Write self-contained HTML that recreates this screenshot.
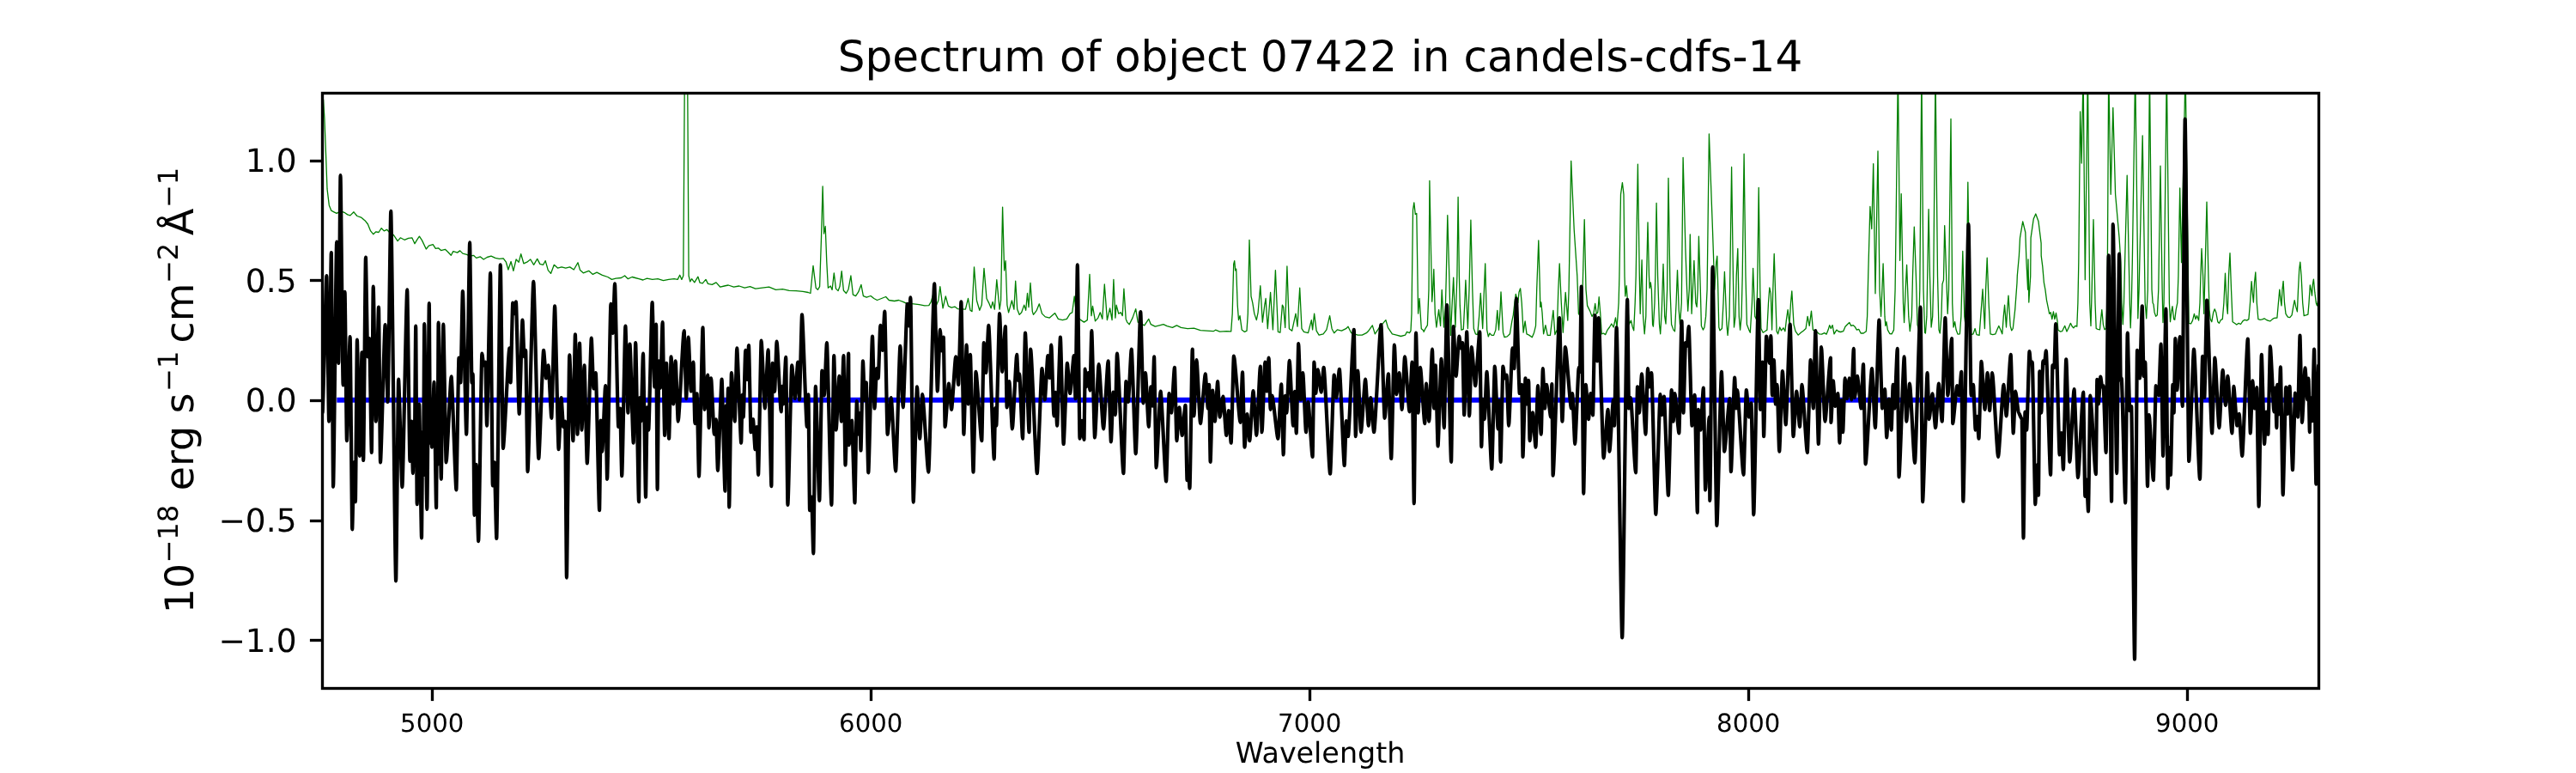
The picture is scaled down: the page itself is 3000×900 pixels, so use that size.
<!DOCTYPE html>
<html><head><meta charset="utf-8"><title>Spectrum of object 07422 in candels-cdfs-14</title>
<style>
html,body{margin:0;padding:0;background:#fff}
svg{display:block;will-change:transform}
text{text-rendering:geometricPrecision;font-family:"DejaVu Sans","Liberation Sans",sans-serif;fill:#000}
</style></head><body>
<svg width="3000" height="900" viewBox="0 0 3000 900">
<rect width="3000" height="900" fill="#fff"/>
<defs><clipPath id="c"><rect x="375" y="108" width="2325" height="693"/></clipPath></defs>
<g clip-path="url(#c)" fill="none" stroke-linejoin="round" stroke-linecap="butt">
<polyline stroke="#008000" stroke-width="1.3" points="376.6,115.8 377.9,137.9 379.5,178.9 381,219.9 383.3,238.9 385.8,245.2 388.9,246.8 392.1,248.4 396.8,245.8 401.6,247.7 404.7,249.9 407.9,250.9 412,246.8 415.8,251.5 420.5,253.1 425.2,256.9 428.4,261 431.6,268.9 434.7,272.7 437.9,269.8 441,270.5 444.2,265.7 447.3,268.9 450.5,267.3 453.6,270.5 458.4,273.6 463.1,280.6 466.3,276.8 471,279.3 475.7,277.4 479.8,276.8 483,283.7 486.2,278.3 488.4,275.2 491.5,279.9 496.3,290 499.4,286.2 504.2,284.7 507.3,289.4 510.5,288.8 513.6,291.6 518.4,290.3 521.5,293.2 525.3,297.3 527.8,292.6 532.6,294.1 535.7,291.9 538.9,295.1 543.6,296.3 547.4,298.2 551.5,297.3 554.7,300.4 559.4,298.9 563.2,302 567.3,299.5 572,298.2 576.8,300.4 581.5,301.4 586.2,300.8 589.4,305.2 591.9,314 595.1,304.5 597.9,315.3 601.1,302 604.2,305.2 606.7,295.7 609.9,306.8 613.7,305.2 617.8,302 621.6,308.3 625.7,301.4 628.8,307.4 632.6,308.3 635.2,303.6 638.3,314.6 641.5,318.4 645.3,308.3 649.4,312.1 654.1,310.9 658.8,312.1 663.6,310.9 668.3,314 673,305.8 675.6,314.6 679.3,317.8 685.7,315.3 690.4,319.4 695.1,317.2 701.4,320.3 707.8,322.5 712.5,325.4 717.2,324.1 723.5,323.5 727.6,321 731.4,324.7 736.2,322.5 739.9,323.5 744.1,324.7 748.8,326 753.5,324.1 759.8,325.4 766.1,324.7 772.5,326.6 778.8,325.4 785.1,324.7 789.2,325.4 791.7,320.3 793.9,325.4 795.8,321 797.4,74.7 800.6,74.7 802.1,321 803.7,327.9 805.6,324.7 808.8,328.9 812.9,322.2 815.1,329.2 818.2,329.8 822,325.4 824.5,330.4 829.3,331.4 834,328.9 838.8,334.2 843.5,333 848.2,332 854.5,334.2 860.8,333 867.2,335.2 873.5,333.6 879.8,336.1 887.7,335.2 895.6,334.2 903.5,337.4 911.4,336.7 919.2,338.3 927.1,338.6 935,339.3 941.3,340.5 943.9,341.5 947,309.3 950.2,335.2 952.4,337.4 954.6,333.6 956.5,276.8 958.1,216.8 959.6,272 961.2,263.5 962.8,305.2 964.4,335.2 967.2,333 969.1,337.4 971.3,317.8 973.5,336.1 976.1,338.6 978,333.6 980.2,315.6 982.4,338.3 985.5,341.5 988.1,336.7 990.9,321 993.4,343.1 996.6,344.6 999.7,339.9 1002.9,331.4 1005.4,344.6 1009.2,346.2 1014,344.5 1017.8,347.5 1021.5,349.5 1026.6,347.5 1031.6,345.5 1035.3,349.5 1041.6,350.5 1046.6,349.5 1051.7,351.3 1055.4,353.1 1064.2,353.8 1070.5,354.6 1076.8,355.8 1081.8,355.6 1084.3,351.3 1086.8,342.5 1090.6,355.1 1092.8,350 1094.8,333.7 1098.1,358.8 1101.3,345 1104.4,356.3 1108.1,358.1 1111.9,357.1 1115.2,359.6 1124.4,360.1 1127.5,347.5 1130,361.3 1132,362.6 1134.5,310.9 1137.5,350 1140.8,361.3 1143.3,355.1 1146,312.4 1149,347.5 1151.6,352.6 1154.1,358.8 1156.1,351.3 1158.3,360.1 1160.8,325.7 1164.1,360.1 1165.6,350 1167.6,241.1 1169.6,314.9 1171.1,303.6 1172.9,355.1 1174.6,363.8 1178.4,350 1180.9,360.1 1182.7,327.2 1184.7,360.1 1187.2,366.4 1189.7,363.8 1192.7,355.1 1194.7,361.3 1196.5,341.5 1198,357.6 1200,329.5 1202.3,362.6 1203.5,366.4 1207.3,361.3 1210.3,353.8 1213.5,365.1 1217.3,368.9 1222.3,370.1 1228.6,364.6 1232.4,371.4 1237.4,372.6 1242.4,371.4 1246.2,365.1 1248.7,363.8 1251.2,345 1253.7,367.6 1258.7,372.6 1262.5,375.1 1266.3,372.6 1269,319.4 1271,367.6 1272.5,356.3 1275.5,373.9 1278.8,370.1 1281.3,363.8 1283.8,371.4 1286.3,331 1289.4,372.6 1292.6,358.8 1295.1,372.6 1296.9,325.4 1298.9,370.1 1300.1,355.1 1302.7,365.1 1305.2,363.8 1307.2,367.6 1308.9,336.2 1311.2,371.4 1312.7,375.1 1315.2,377.7 1319,370.1 1322.7,359.6 1325.2,375.1 1332.8,378.9 1337.8,371.4 1340.3,377.7 1345.3,380.2 1350.3,378.9 1354.9,377.7 1359.1,379.7 1365.4,381.4 1370.4,378.9 1375.4,381.4 1383,382.7 1390.5,382.2 1398,384.7 1405.6,385.2 1413.1,385.7 1415.6,384.2 1420.6,386.2 1428.2,385.7 1433.7,385.9 1435.2,365.1 1436.7,307.4 1437.7,303.6 1438.7,314.9 1439.7,313.1 1441.2,355.1 1442.5,372.6 1444,367.6 1446.2,383.9 1449.5,386.4 1452,385.2 1453.3,365.1 1455,279.3 1457,345 1458.8,352.6 1460.8,365.1 1463.3,372.6 1465.1,363.8 1467.8,332.7 1470.3,375.1 1472.8,355.1 1474.1,347.5 1476.3,382.7 1479.6,340.5 1482.4,383.9 1485.4,314.6 1488.4,386.4 1490.9,387.2 1493.4,355.1 1494.7,357.6 1496.7,381.4 1498.9,309.9 1501.4,382.7 1504.7,385.2 1509,365.1 1511,380.2 1513.7,335.2 1516,382.7 1518.5,386.4 1523.5,387.7 1527.3,372.6 1528.6,383.9 1530.6,365.1 1533.1,385.2 1536.1,390.2 1541.1,388.9 1544.9,383.9 1548.6,367.6 1551.1,382.7 1553.7,387.7 1557.4,383.9 1562.4,385.2 1567.5,382.7 1570,380.2 1573.7,387.7 1581.3,390.2 1586.3,390.2 1591.3,387.7 1593.8,385.2 1598.3,378.9 1601.3,388.9 1606.4,381.4 1613.9,372.6 1616.4,381.4 1621.4,388.9 1626.4,390.2 1631.5,391.5 1636.5,390.2 1638.5,386.4 1641.5,387.7 1643,385.2 1644,365.1 1645.5,244.6 1646.8,235.8 1648.3,249.6 1649.8,248.4 1651.6,365.1 1653.1,347.5 1655.3,382.7 1658,384.9 1658.1,386.4 1660.4,381.8 1662.4,378.6 1664,337.1 1664.9,210.5 1667.7,351.2 1668.7,337.1 1669.8,313.5 1671.3,365.3 1672.9,381 1675.6,360.6 1677.6,379.4 1679.2,337.4 1681.5,381 1683.4,355.9 1684.3,321.4 1685.8,250.6 1687.8,321.4 1689.4,390.4 1691.2,352.7 1692.7,323.1 1694.9,381 1696.1,344.9 1696.9,321.4 1698.1,229.4 1699.4,321.4 1700.3,355.9 1701.9,384.1 1704.3,383.3 1705.8,352.7 1706.9,326.2 1709.4,382.5 1711,337.1 1712.9,256.2 1714.8,337.1 1716.3,382.5 1718.4,388.8 1720.7,389.6 1722.6,368.4 1724.3,341.4 1726.7,382.5 1728.1,344.9 1729.7,306.8 1731.7,384.1 1733.3,391.9 1734.9,388 1737.2,390.4 1739.6,390.4 1741.9,384.1 1743.8,361.4 1745.5,384.1 1747.1,360.6 1748,339.9 1750.5,387.2 1752.1,392.7 1755.2,391.9 1758.4,388.8 1760.7,374.7 1762.3,366.9 1763.9,352.7 1765.3,342.4 1767.8,352.7 1769,340.2 1770.6,335.8 1772.2,352.7 1774.1,387.2 1776.1,373.9 1778,388.8 1781.1,390.4 1784.3,392.7 1786.6,387.2 1788.5,379.4 1789.7,337.1 1791.8,279.9 1793.2,329.2 1793.8,357.4 1794.8,352 1796,363.7 1797.6,388.8 1799.9,378.6 1802.3,390.4 1805.4,390.4 1807.3,374.7 1808.9,361.4 1810.9,389.6 1813.3,384.1 1814.8,337.1 1816.2,306.8 1818.3,352.7 1820.3,387.2 1821.9,360.6 1823.2,340.5 1825.8,373.1 1827.1,337.1 1829.7,187.4 1833.2,267.3 1836.8,321.4 1838.4,365.3 1840.7,368.4 1843.1,337.1 1845.2,255.6 1847,337.1 1848.6,355.9 1851.7,362.1 1854,368.4 1855.9,365.3 1857.7,353.5 1859.2,365.3 1860.8,363.7 1862.2,345.7 1863.8,365.3 1865.3,388.8 1867.4,388 1869.7,389.6 1872.1,384.1 1874.4,381 1876.8,377 1879.1,381 1881.5,370 1883.1,381 1885.1,352.7 1885.9,321.4 1887.5,226.3 1889.4,212.7 1891,226.3 1892,321.4 1892.8,344.9 1894.2,332.7 1895.6,352.7 1897.2,377.8 1899.5,373.1 1901.1,380.2 1902.7,384.9 1904.2,352.7 1905.2,321.4 1907.4,191.2 1909.3,321.4 1910.2,365.3 1911,337.1 1912.1,302.7 1913.6,368.4 1915.2,388.8 1916.8,368.4 1917.6,321.4 1919,258.8 1920.5,321.4 1921.2,335.5 1922.3,328.9 1923.4,337.1 1924.6,377.8 1925.4,380.2 1927,352.7 1927.8,321.4 1929.1,236.4 1930.6,321.4 1932.5,377.8 1933.7,388.8 1935.3,360.6 1937,307.3 1938.7,368.4 1940,377 1941.6,337.1 1943,207.3 1945,337.1 1946.6,377.8 1948.9,384.1 1950.5,385.7 1952.1,352.7 1953.5,314.6 1955.2,360.6 1956.5,377.8 1958.3,352.7 1960.1,183.3 1962.9,289.4 1964.6,337.1 1965.7,362.1 1967.3,337.1 1968.3,273 1970.1,365.3 1971.4,337.1 1972.9,303.3 1974.8,352.7 1976.1,357.4 1977.2,337.1 1978.4,275.2 1980.3,337.1 1981.4,379.4 1983.4,384.1 1985,381 1986.6,368.4 1988.1,337.1 1990.4,155.9 1994.5,267.9 1996.8,337.1 1998.7,305.7 1999.8,298.2 2000.8,337.1 2001.8,381 2003,384.9 2005.4,382.5 2007,352.7 2008.4,316.3 2010.9,377.8 2012.1,390.4 2014,368.4 2014.8,321.4 2016.6,194.4 2018.4,321.4 2019.5,381 2021.1,368.4 2022.2,321.4 2023.8,289.4 2025.3,368.4 2026.6,384.1 2028.1,368.4 2029.2,321.4 2031.1,179.2 2033,321.4 2034.4,377.8 2036.8,384.1 2038.3,387.2 2040.4,352.7 2041.6,312.3 2043.8,368.4 2045.4,371.6 2046.6,337.1 2048.2,218.4 2049.8,337.1 2050.9,382.5 2053.2,387.2 2055.6,385.7 2057.9,384.1 2059.5,352.7 2060.8,334.8 2062.3,341.8 2063.6,384.1 2064.8,337.1 2066.2,295.5 2068,352.7 2069.1,385.7 2070.6,388.8 2072.7,381 2074.5,384.9 2076.9,381.8 2078.9,385.7 2080.5,371.6 2082.1,360.6 2084,377.8 2085.5,352.7 2086.8,338.9 2089,377.8 2091,385.7 2094.2,390.1 2097.3,387.2 2100.4,384.9 2103.1,382.5 2105.1,368.4 2107.2,379.4 2109.5,362.1 2111.4,384.1 2115.3,385.7 2118.5,388.8 2121.6,389.1 2124.7,387.6 2127.1,389.1 2129.1,384.1 2130.7,378.6 2132.3,382.5 2134.1,378.6 2136,388.8 2138.9,384.1 2141.2,386 2143.6,386.5 2146.7,385.7 2149,380.2 2151.4,377.8 2153.8,375.5 2155.8,379.4 2158,378.6 2160,380.2 2162.4,384.1 2164.7,383.3 2167.1,388 2170.2,388 2173.4,385.7 2174.6,368.4 2175.7,321.4 2177.9,240.5 2179.8,266.5 2181.7,190.6 2184,341.8 2187,175.8 2189,337.1 2190.6,368.4 2191.9,337.1 2193.1,306.8 2195,368.4 2195.8,379.4 2196.9,374.7 2198.4,384.1 2200.8,388.5 2203.2,388.8 2205.5,384.1 2207.1,337.1 2210.4,81.1 2212.6,303.3 2214.2,225.6 2216.5,352.7 2217.6,375.5 2219.2,337.1 2220.6,308.4 2222.8,368.4 2224.3,385.7 2226.4,368.4 2227.5,321.4 2229.3,264.1 2231.4,321.4 2233,377.8 2234.5,384.1 2235.8,337.1 2237.9,81.1 2240,337.1 2241.6,387.2 2242.4,388 2243.9,368.4 2244.7,321.4 2246.1,243.6 2247.5,321.4 2249.1,381 2250.7,368.4 2251.8,321.4 2254,81.1 2256.5,321.4 2258,384.1 2259.3,388 2260.9,368.4 2262,330.8 2263.5,326.1 2264.7,262.6 2266.7,321.4 2268.2,365.3 2269.5,337.1 2272,138.5 2273.7,352.7 2275,381 2276.6,374.7 2278.1,384.1 2280,389.1 2282.4,388.8 2283.9,368.4 2285.8,292.5 2287.8,368.4 2288.9,377.8 2290.2,337.1 2291.8,212.1 2293.8,337.1 2295.7,389.6 2298,388.8 2300.1,382.5 2302,389.6 2305.1,390.4 2306.7,368.4 2309,336.7 2311.4,382.5 2312.6,337.1 2314.2,300.2 2316.1,352.7 2318,388.8 2320.8,389.6 2323.9,388.8 2325.8,384.1 2327.8,379.4 2329.9,384.1 2331.8,388.8 2333.3,368.4 2334.6,355.1 2336.5,381 2337.7,360.6 2339,344.1 2341.2,379.4 2342.7,384.9 2344.3,382.5 2346.7,360.6 2349,329.2 2349.3,321 2351.4,297.8 2352.5,276.8 2355.7,257.8 2358.8,270.5 2360,305.7 2361.6,337.1 2362,302 2362.8,352 2364.7,321.4 2365.1,276.8 2368.3,254.7 2370.8,249 2374,257.8 2377.1,283.1 2377.2,297.8 2378.8,310.4 2380.4,329.2 2381.9,337.1 2383.5,349.6 2385.1,357.4 2386.7,365.3 2388.2,363.7 2389.8,371.6 2391.4,362.9 2392.9,371.6 2394.5,364.5 2396.1,374.7 2396.8,384.1 2399.2,386 2401.6,385.7 2403.1,382.5 2404.7,379.4 2407,386 2409.4,381 2411.4,376.3 2413.3,380.2 2414.9,381.8 2416.8,379.4 2418.8,380.2 2419.9,352.7 2420.8,305.7 2422.6,130 2424.2,190 2426.1,81.1 2428.3,325.7 2431.4,81.1 2433.7,352.7 2435,379.4 2436.2,337.1 2438,255.6 2440,352.7 2441.2,382.5 2443.1,383.3 2445.5,383.8 2446.6,371.6 2447.8,360.6 2449.4,377.8 2451,383.8 2452.5,382.5 2454.1,352.7 2455.7,81.1 2458.2,226.3 2460.8,125.3 2463.6,226.3 2468,276.1 2469.9,305.7 2471,352.7 2472.3,377.8 2473.5,352.7 2474.6,305.7 2477.2,204.2 2479.3,305.7 2480.3,352.7 2481.2,381.8 2482.3,352.7 2483.3,305.7 2486.7,81.1 2489.5,305.7 2489.8,370.8 2491.1,337.1 2495.2,157.8 2498.2,352.7 2499.7,370.8 2501.3,337.1 2503.4,81.1 2506,337.1 2507.1,352.7 2508,354.3 2509.1,363.7 2510.7,368.4 2512.3,366.9 2513.8,337.1 2516,193.1 2518.1,337.1 2519,375.5 2520.1,352.7 2523.3,81.1 2526.4,352.7 2527.5,374.7 2528.7,363.7 2530,356.7 2531.6,371.6 2532.7,372.3 2534.2,360.6 2535.8,352.7 2536.9,321.4 2538.7,219 2540.5,305.7 2545.1,81.1 2549.1,376.3 2551.5,377 2553.5,373.1 2555.4,365.3 2557,371.6 2558.5,367.6 2560.6,373.1 2562,352.7 2562.9,321.4 2564,289.4 2565.6,321.4 2566.7,365.3 2567.9,321.4 2570,235.1 2571.9,321.4 2573,360.6 2574.2,371.6 2575.8,374.7 2577.7,363.7 2579.2,359.8 2580.8,363.7 2582.8,374.7 2584.4,376.3 2586.5,372.3 2588.3,371.6 2589.9,352.7 2591.5,318.2 2593,352.7 2594.3,365.3 2595.5,321.4 2597,294.7 2598.5,337.1 2600.1,374.7 2602.4,376.3 2604.8,378.1 2607.2,376.3 2609.5,377.5 2611.9,373.9 2614.2,372.3 2616.6,373.1 2618.9,371.6 2620.5,352.7 2622.1,327.6 2623.3,341.8 2624.4,352 2625.5,329.2 2626.8,317 2628.3,352.7 2629.9,371.6 2632.2,372.3 2634.6,371.9 2637,370.8 2639.3,372.3 2641.7,373.4 2644,373.9 2646.4,371.6 2648.7,370.3 2651.9,370 2653.4,352.7 2654.8,337.1 2656.1,349.6 2657,355.9 2658,337.1 2659.1,327.3 2660.5,352.7 2662,365.3 2664.4,369.2 2666.8,369.7 2669.1,366.9 2670.7,357.4 2672.2,349.6 2673.8,357.4 2675.4,362.9 2676.5,337.1 2677.7,313.5 2678.8,305.2 2680.1,321.4 2681.7,352.7 2683.2,367.6 2685.6,366.9 2687.9,366.1 2689,352.7 2690.3,332 2691.4,337.1 2692.5,344.1 2693.4,330.8 2694.4,325.1 2695.8,340.2 2697.3,352.7 2698.4,355.9 2699.7,349.6 2701.3,337.1"/>
<line x1="392.3" y1="465.8" x2="2677" y2="465.8" stroke="#0000ff" stroke-width="6"/>
<path stroke="#000" stroke-width="4.2" d="M375.5,480.6C376.4,480.6 379.5,321 380.4,321C380.9,321 382.6,490.6 383.1,490.6C383.6,490.6 385.3,294.1 385.8,294.1C386.2,294.1 387.7,566.6 388.1,566.6C388.8,566.6 391.4,281.5 392.1,281.5C392.5,281.5 393.9,422.8 394.3,422.8C394.7,422.8 396.1,204.2 396.5,204.2C397.1,204.2 399.0,448.4 399.6,448.4C400.0,448.4 401.2,339.9 401.6,339.9C402.0,339.9 403.5,513.2 403.9,513.2C404.6,513.2 407.0,392.2 407.7,392.2C408.1,392.2 409.8,616.3 410.2,616.3C410.6,616.3 411.8,538.3 412.2,538.3C412.5,538.3 413.6,584.2 413.9,584.2C414.3,584.2 415.5,395.7 415.9,395.7C416.4,395.7 418.4,530.8 418.9,530.8C419.4,530.8 421.0,410.3 421.5,410.3C421.8,410.3 422.9,536 423.2,536C423.7,536 425.4,299.5 425.9,299.5C426.3,299.5 427.8,415.3 428.2,415.3C428.6,415.3 429.8,394 430.2,394C430.7,394 432.3,527 432.8,527C433.1,527 434.4,333.6 434.7,333.6C435.3,333.6 437.2,490.6 437.8,490.6C438.4,490.6 440.4,357.6 441,357.6C441.4,357.6 442.6,538.5 443,538.5C444.0,538.5 447.6,378.2 448.6,378.2C449.1,378.2 451.1,468 451.6,468C452.2,468 454.6,245.8 455.2,245.8C456.3,245.8 460.0,676.3 461.1,676.3C461.6,676.3 463.6,441.7 464.1,441.7C464.9,441.7 467.6,567.1 468.4,567.1C469.4,567.1 473.2,337.4 474.2,337.4C474.8,337.4 476.8,537 477.4,537C477.7,537 478.9,490.6 479.2,490.6C479.5,490.6 480.6,551.1 480.9,551.1C481.1,551.1 481.7,490.6 481.9,490.6C482.0,490.6 482.6,530.8 482.7,530.8C483.0,530.8 483.9,379.7 484.2,379.7C484.5,379.7 485.4,587.2 485.7,587.2C486.1,587.2 487.8,470.5 488.2,470.5C488.7,470.5 490.5,626.4 491,626.4C491.2,626.4 492.0,503.2 492.2,503.2C492.3,503.2 492.9,553.4 493,553.4C493.2,553.4 494.0,377.1 494.2,377.1C494.8,377.1 496.7,593 497.3,593C497.8,593 499.4,353.1 499.8,353.1C500.0,353.1 500.8,515.7 501,515.7C501.2,515.7 501.8,480.6 502,480.6C502.2,480.6 502.8,520.7 503,520.7C503.4,520.7 505.1,444.9 505.5,444.9C506.0,444.9 507.6,591.2 508.1,591.2C508.2,591.2 508.7,500.6 508.8,500.6C508.9,500.6 509.5,540.8 509.6,540.8C509.8,540.8 510.4,375.6 510.6,375.6C511.2,375.6 513.2,557.8 513.8,557.8C514.2,557.8 515.8,377.7 516.3,377.7C516.9,377.7 519.0,538.5 519.6,538.5C520.7,538.5 524.5,438.4 525.6,438.4C526.6,438.4 530.4,570.4 531.4,570.4C531.9,570.4 533.9,416.6 534.4,416.6C534.8,416.6 536.0,445.4 536.4,445.4C536.9,445.4 538.4,339 538.9,339C539.7,339 542.4,505.7 543.2,505.7C543.9,505.7 546.4,282.4 547.1,282.4C547.5,282.4 549.1,445.4 549.5,445.4C549.7,445.4 550.5,435.4 550.7,435.4C551.0,435.4 552.2,599.8 552.5,599.8C552.9,599.8 554.1,540.8 554.5,540.8C555.0,540.8 556.7,630.1 557.2,630.1C557.9,630.1 560.6,411.5 561.3,411.5C561.7,411.5 562.9,425.3 563.3,425.3C563.7,425.3 564.9,421.6 565.3,421.6C565.6,421.6 566.7,495.6 567,495.6C567.7,495.6 570.4,317.8 571.1,317.8C571.6,317.8 573.3,565.4 573.8,565.4C574.2,565.4 575.4,538.3 575.8,538.3C576.2,538.3 577.8,626.9 578.3,626.9C579.1,626.9 582.0,308.3 582.8,308.3C583.4,308.3 585.3,522 585.9,522C587.2,522 592.0,405.3 593.4,405.3C593.6,405.3 594.4,445.4 594.6,445.4C595.1,445.4 596.7,352.6 597.2,352.6C597.5,352.6 598.6,365.1 598.9,365.1C599.3,365.1 600.5,351.3 600.9,351.3C601.6,351.3 604.0,481.8 604.7,481.8C605.4,481.8 607.8,372.6 608.5,372.6C608.9,372.6 610.1,415.3 610.5,415.3C610.8,415.3 611.9,407.8 612.2,407.8C612.6,407.8 614.1,549.1 614.5,549.1C615.7,549.1 620.1,327.9 621.3,327.9C622.4,327.9 626.2,534 627.3,534C628.3,534 632.1,407.8 633.1,407.8C633.6,407.8 635.6,440.4 636.1,440.4C636.6,440.4 638.1,425.3 638.6,425.3C639.3,425.3 641.6,486.8 642.3,486.8C643.0,486.8 645.4,356.3 646.1,356.3C646.9,356.3 649.8,523.2 650.6,523.2C651.1,523.2 653.1,463 653.6,463C654.1,463 655.6,496.9 656.1,496.9C656.5,496.9 657.8,490.6 658.2,490.6C658.5,490.6 659.6,672.6 659.9,672.6C660.5,672.6 662.6,413.3 663.2,413.3C664.0,413.3 666.6,513.2 667.4,513.2C667.9,513.2 669.4,389.4 669.9,389.4C670.4,389.4 672.0,505.7 672.5,505.7C673.0,505.7 674.5,399.5 675,399.5C675.5,399.5 677.0,500.6 677.5,500.6C678.0,500.6 680.0,425.3 680.5,425.3C681.1,425.3 683.2,539.5 683.8,539.5C684.7,539.5 687.9,393.5 688.8,393.5C689.2,393.5 690.8,452.5 691.3,452.5C691.8,452.5 693.3,434.1 693.8,434.1C694.6,434.1 697.3,594.2 698.1,594.2C698.4,594.2 699.4,489.6 699.7,489.6C700.0,489.6 701.0,525.7 701.3,525.7C702.0,525.7 704.4,449.2 705.1,449.2C705.5,449.2 706.7,557.8 707.1,557.8C707.9,557.8 710.6,353.8 711.4,353.8C711.8,353.8 713.3,387.9 713.7,387.9C714.1,387.9 715.6,330.4 716,330.4C716.8,330.4 719.4,496.9 720.2,496.9C720.6,496.9 721.8,475.5 722.2,475.5C722.6,475.5 723.8,554.1 724.2,554.1C725.0,554.1 727.6,379.7 728.4,379.7C728.9,379.7 730.9,480.6 731.4,480.6C731.8,480.6 733.1,400.7 733.5,400.7C734.3,400.7 736.9,515.7 737.7,515.7C738.2,515.7 739.8,399 740.2,399C740.9,399 743.3,584.2 744,584.2C744.2,584.2 745.1,463.2 745.3,463.2C745.5,463.2 746.3,490.6 746.5,490.6C747.0,490.6 748.5,411.5 749,411.5C749.5,411.5 751.5,578.7 752,578.7C752.3,578.7 753.4,474.4 753.7,474.4C754.0,474.4 755.0,500.6 755.3,500.6C756.1,500.6 758.8,352 759.6,352C760.1,352 761.8,450.4 762.3,450.4C762.6,450.4 763.8,377.7 764.1,377.7C764.4,377.7 765.3,569.9 765.6,569.9C765.9,569.9 767.0,420.4 767.3,420.4C767.6,420.4 768.8,451.7 769.1,451.7C769.6,451.7 771.1,375.1 771.6,375.1C772.1,375.1 773.6,506.9 774.1,506.9C774.5,506.9 775.7,422.8 776.1,422.8C776.6,422.8 778.6,510.7 779.1,510.7C779.6,510.7 781.1,415.3 781.6,415.3C782.1,415.3 783.7,470.5 784.2,470.5C784.7,470.5 786.2,420.3 786.7,420.3C787.2,420.3 789.2,490.6 789.7,490.6C791.0,490.6 795.4,385.2 796.7,385.2C797.2,385.2 798.8,464.2 799.2,464.2C799.7,464.2 801.2,392.7 801.7,392.7C802.2,392.7 804.2,455.5 804.7,455.5C805.2,455.5 807.0,421.6 807.5,421.6C807.8,421.6 809.0,493.1 809.3,493.1C809.7,493.1 811.2,458.4 811.6,458.4C812.0,458.4 813.6,554.6 814,554.6C814.8,554.6 817.7,381.4 818.5,381.4C818.9,381.4 820.2,476.8 820.6,476.8C821.3,476.8 823.6,436.6 824.3,436.6C824.5,436.6 825.4,498.1 825.6,498.1C826.1,498.1 827.6,440.4 828.1,440.4C828.8,440.4 831.1,505.7 831.8,505.7C832.2,505.7 833.5,488.3 833.9,488.3C834.3,488.3 835.5,547.8 835.9,547.8C836.7,547.8 839.8,441.7 840.6,441.7C841.3,441.7 843.7,571.7 844.4,571.7C844.6,571.7 845.5,472.4 845.7,472.4C845.9,472.4 846.7,488.1 846.9,488.1C847.1,488.1 847.8,452.2 848,452.2C848.2,452.2 849.0,590.5 849.2,590.5C849.7,590.5 851.4,434.1 851.9,434.1C852.6,434.1 855.0,490.6 855.7,490.6C856.2,490.6 857.8,405.3 858.2,405.3C859.1,405.3 862.3,515.7 863.2,515.7C863.4,515.7 864.3,459.8 864.5,459.8C864.7,459.8 865.5,485.6 865.7,485.6C866.2,485.6 867.8,407.8 868.2,407.8C868.5,407.8 869.8,441.8 870.1,441.8C870.4,441.8 871.7,402.2 872,402.2C872.5,402.2 874.0,503.2 874.5,503.2C875.0,503.2 876.5,488.1 877,488.1C877.5,488.1 879.0,523.2 879.5,523.2C879.8,523.2 881.0,497.1 881.3,497.1C881.6,497.1 882.8,552.8 883.1,552.8C883.7,552.8 886.0,396.5 886.6,396.5C887.4,396.5 890.0,475.5 890.8,475.5C891.5,475.5 893.9,407.3 894.6,407.3C895.3,407.3 897.7,566.1 898.4,566.1C898.6,566.1 899.4,422.8 899.6,422.8C900.1,422.8 901.6,455.9 902.1,455.9C902.6,455.9 904.1,397.7 904.6,397.7C905.5,397.7 908.8,479.3 909.7,479.3C909.9,479.3 910.7,449.8 910.9,449.8C911.1,449.8 912.0,470.5 912.2,470.5C912.7,470.5 914.7,415.8 915.2,415.8C915.6,415.8 917.0,588 917.4,588C918.3,588 921.3,425.3 922.2,425.3C922.8,425.3 925.1,464 925.7,464C926.3,464 928.6,421.6 929.2,421.6C929.5,421.6 930.7,465.5 931,465.5C931.5,465.5 933.5,366.4 934,366.4C935.0,366.4 938.8,496.9 939.8,496.9C940.1,496.9 941.1,459.3 941.4,459.3C941.7,459.3 942.7,594.2 943,594.2C943.4,594.2 944.8,578.5 945.2,578.5C945.6,578.5 946.9,644.4 947.3,644.4C947.8,644.4 949.3,449.9 949.8,449.9C950.6,449.9 953.5,582.9 954.3,582.9C954.8,582.9 956.8,431.6 957.3,431.6C957.8,431.6 959.4,460.5 959.9,460.5C960.4,460.5 962.4,399 962.9,399C963.9,399 967.4,588 968.4,588C968.9,588 970.7,414 971.2,414C971.7,414 973.2,500.6 973.7,500.6C974.4,500.6 976.7,437.9 977.4,437.9C977.9,437.9 979.4,490.6 979.9,490.6C980.4,490.6 981.9,414 982.4,414C982.8,414 984.1,541.5 984.5,541.5C985.2,541.5 987.5,411.5 988.2,411.5C988.3,411.5 988.6,518.2 988.7,518.2C989.3,518.2 991.5,489.7 992.1,489.7C992.7,489.7 994.9,585.5 995.5,585.5C995.9,585.5 997.4,467.2 997.8,467.2C998.2,467.2 999.6,505.7 1000,505.7C1000.2,505.7 1001.1,481.1 1001.3,481.1C1001.5,481.1 1002.3,524.5 1002.5,524.5C1003.0,524.5 1004.5,420.3 1005,420.3C1005.3,420.3 1006.6,465.8 1006.9,465.8C1007.2,465.8 1008.5,445.4 1008.8,445.4C1009.2,445.4 1010.8,550.3 1011.3,550.3C1012.1,550.3 1015.2,391.5 1016,391.5C1016.5,391.5 1018.0,475.5 1018.5,475.5C1019.0,475.5 1020.5,429.1 1021,429.1C1021.3,429.1 1022.5,440.4 1022.8,440.4C1023.2,440.4 1024.8,378.9 1025.3,378.9C1025.8,378.9 1027.3,407.8 1027.8,407.8C1028.2,407.8 1029.8,362.6 1030.3,362.6C1030.9,362.6 1033.0,505.7 1033.6,505.7C1034.4,505.7 1037.0,463 1037.8,463C1038.8,463 1042.1,548.6 1043.1,548.6C1044.1,548.6 1047.4,402.8 1048.4,402.8C1049.0,402.8 1051.1,474.3 1051.7,474.3C1052.6,474.3 1055.8,353.8 1056.7,353.8C1057.0,353.8 1058.3,379.4 1058.6,379.4C1058.9,379.4 1060.1,346.3 1060.4,346.3C1061.0,346.3 1063.1,584.7 1063.7,584.7C1064.5,584.7 1067.2,450.4 1068,450.4C1068.6,450.4 1070.6,510.7 1071.2,510.7C1071.7,510.7 1073.7,459.2 1074.2,459.2C1075.5,459.2 1080.0,549.6 1081.3,549.6C1082.5,549.6 1087.0,330.4 1088.2,330.4C1088.8,330.4 1091.2,455.5 1091.8,455.5C1092.3,455.5 1094.3,383.9 1094.8,383.9C1095.2,383.9 1096.4,408.4 1096.8,408.4C1097.2,408.4 1098.4,392.7 1098.8,392.7C1099.1,392.7 1100.3,496.9 1100.6,496.9C1101.4,496.9 1104.1,446.7 1104.9,446.7C1105.5,446.7 1107.5,476.8 1108.1,476.8C1109.0,476.8 1112.2,415.3 1113.1,415.3C1113.7,415.3 1115.6,447.9 1116.2,447.9C1116.8,447.9 1118.8,351.3 1119.4,351.3C1119.9,351.3 1121.9,505.7 1122.4,505.7C1123.0,505.7 1125.1,401.5 1125.7,401.5C1126.0,401.5 1127.2,470.5 1127.5,470.5C1128.0,470.5 1129.5,412.8 1130,412.8C1130.6,412.8 1132.9,549.6 1133.5,549.6C1134.0,549.6 1136.0,432.9 1136.5,432.9C1137.7,432.9 1142.1,513.2 1143.3,513.2C1143.8,513.2 1145.3,399 1145.8,399C1146.2,399 1147.8,434.1 1148.3,434.1C1148.8,434.1 1150.8,378.9 1151.3,378.9C1152.5,378.9 1156.6,534.5 1157.8,534.5C1158.0,534.5 1158.9,475.1 1159.1,475.1C1159.3,475.1 1160.1,495.6 1160.3,495.6C1161.0,495.6 1163.4,365.1 1164.1,365.1C1164.6,365.1 1166.6,432.9 1167.1,432.9C1167.8,432.9 1170.2,380.2 1170.9,380.2C1171.2,380.2 1172.3,474.3 1172.6,474.3C1173.1,474.3 1174.9,444.2 1175.4,444.2C1176.0,444.2 1178.3,499.4 1178.9,499.4C1179.9,499.4 1183.2,412.8 1184.2,412.8C1184.5,412.8 1185.6,442.9 1185.9,442.9C1186.1,442.9 1187.0,435.4 1187.2,435.4C1187.9,435.4 1190.3,510.7 1191,510.7C1191.5,510.7 1193.5,387.7 1194,387.7C1194.8,387.7 1197.7,503.2 1198.5,503.2C1198.8,503.2 1199.9,406.5 1200.2,406.5C1201.6,406.5 1206.4,551.1 1207.8,551.1C1208.8,551.1 1212.5,429.1 1213.5,429.1C1214.1,429.1 1216.2,465.5 1216.8,465.5C1217.4,465.5 1219.7,414 1220.3,414C1220.7,414 1221.9,440 1222.3,440C1222.7,440 1223.9,401.5 1224.3,401.5C1224.9,401.5 1226.8,484.3 1227.4,484.3C1227.7,484.3 1228.9,456.9 1229.2,456.9C1229.5,456.9 1230.8,495.6 1231.1,495.6C1231.8,495.6 1234.2,392.7 1234.9,392.7C1235.6,392.7 1237.9,517 1238.6,517C1239.4,517 1242.1,422.8 1242.9,422.8C1243.5,422.8 1245.6,458 1246.2,458C1247.0,458 1249.9,414 1250.7,414C1251.0,414 1252.2,464.2 1252.5,464.2C1252.9,464.2 1254.4,308.3 1254.8,308.3C1255.3,308.3 1257.0,510.7 1257.5,510.7C1258.0,510.7 1259.5,489.9 1260,489.9C1260.5,489.9 1262.0,511.9 1262.5,511.9C1262.7,511.9 1263.5,429.7 1263.7,429.7C1263.9,429.7 1264.8,450.4 1265,450.4C1265.5,450.4 1267.0,434.1 1267.5,434.1C1267.8,434.1 1269.1,454.6 1269.4,454.6C1269.7,454.6 1271.0,385.2 1271.3,385.2C1272.0,385.2 1274.3,509.4 1275,509.4C1275.8,509.4 1278.8,424.1 1279.6,424.1C1280.6,424.1 1284.1,499.4 1285.1,499.4C1286.1,499.4 1289.6,420.3 1290.6,420.3C1291.2,420.3 1293.3,514.4 1293.9,514.4C1294.4,514.4 1296.0,456.6 1296.4,456.6C1296.9,456.6 1298.5,483.1 1298.9,483.1C1299.3,483.1 1300.5,411.5 1300.9,411.5C1302.2,411.5 1307.1,551.1 1308.4,551.1C1308.9,551.1 1310.9,444.2 1311.4,444.2C1311.9,444.2 1313.5,468 1313.9,468C1314.6,468 1317.0,406.5 1317.7,406.5C1318.6,406.5 1321.8,528.3 1322.7,528.3C1323.7,528.3 1327.3,363.1 1328.3,363.1C1328.9,363.1 1330.9,469.3 1331.5,469.3C1332.0,469.3 1333.5,434.1 1334,434.1C1334.7,434.1 1337.1,496.9 1337.8,496.9C1338.2,496.9 1339.8,450.4 1340.3,450.4C1340.6,450.4 1341.9,472.7 1342.2,472.7C1342.5,472.7 1343.8,415.3 1344.1,415.3C1344.5,415.3 1346.1,544.5 1346.6,544.5C1347.5,544.5 1350.7,455.5 1351.6,455.5C1352.8,455.5 1356.9,560.4 1358.1,560.4C1358.7,560.4 1361.0,458 1361.6,458C1362.1,458 1363.7,480.6 1364.2,480.6C1364.9,480.6 1367.2,427.9 1367.9,427.9C1368.4,427.9 1370.0,513.2 1370.4,513.2C1370.9,513.2 1372.9,474.3 1373.4,474.3C1374.0,474.3 1376.1,506.9 1376.7,506.9C1377.4,506.9 1379.8,471.8 1380.5,471.8C1380.9,471.8 1382.1,559.1 1382.5,559.1C1382.8,559.1 1383.7,543.6 1384,543.6C1384.3,543.6 1385.2,568.6 1385.5,568.6C1386.1,568.6 1388.1,406.5 1388.7,406.5C1389.0,406.5 1390.2,484.3 1390.5,484.3C1391.0,484.3 1393.0,419.1 1393.5,419.1C1394.3,419.1 1397.2,493.1 1398,493.1C1399.0,493.1 1402.8,435.4 1403.8,435.4C1404.3,435.4 1406.3,475.5 1406.8,475.5C1407.0,475.5 1407.9,447.9 1408.1,447.9C1408.4,447.9 1409.3,537.8 1409.6,537.8C1410.1,537.8 1411.7,454.7 1412.2,454.7C1412.7,454.7 1414.4,490.6 1414.9,490.6C1415.5,490.6 1417.5,444.2 1418.1,444.2C1418.5,444.2 1420.1,485.6 1420.6,485.6C1421.3,485.6 1423.7,461.7 1424.4,461.7C1425.1,461.7 1427.5,506.9 1428.2,506.9C1428.7,506.9 1430.4,478 1430.9,478C1431.4,478 1433.2,515.7 1433.7,515.7C1434.3,515.7 1436.3,414.5 1436.9,414.5C1438.3,414.5 1443.1,491.9 1444.5,491.9C1445.0,491.9 1446.5,433.4 1447,433.4C1447.5,433.4 1449.0,520.7 1449.5,520.7C1450.0,520.7 1451.9,482.1 1452.4,482.1C1452.9,482.1 1454.8,513.2 1455.3,513.2C1456.1,513.2 1458.7,455 1459.5,455C1460.2,455 1462.6,506.9 1463.3,506.9C1464.1,506.9 1467.0,426.6 1467.8,426.6C1468.1,426.6 1469.3,503.2 1469.6,503.2C1470.3,503.2 1472.6,421.6 1473.3,421.6C1473.7,421.6 1474.9,455.5 1475.3,455.5C1475.7,455.5 1477.2,416.6 1477.6,416.6C1478.0,416.6 1479.2,476.8 1479.6,476.8C1479.9,476.8 1481.1,460.5 1481.4,460.5C1482.7,460.5 1487.1,510.7 1488.4,510.7C1489.1,510.7 1491.5,447.4 1492.2,447.4C1492.7,447.4 1494.2,529.5 1494.7,529.5C1495.0,529.5 1496.3,460.9 1496.6,460.9C1496.9,460.9 1498.1,480.6 1498.4,480.6C1499.0,480.6 1501.1,419.8 1501.7,419.8C1502.5,419.8 1505.2,495.6 1506,495.6C1506.3,495.6 1507.6,455.8 1507.9,455.8C1508.2,455.8 1509.4,504.4 1509.7,504.4C1510.2,504.4 1511.8,400.2 1512.2,400.2C1512.7,400.2 1514.3,465.5 1514.8,465.5C1515.2,465.5 1516.8,434.1 1517.3,434.1C1518.0,434.1 1520.3,503.2 1521,503.2C1521.5,503.2 1523.0,468 1523.5,468C1524.4,468 1527.7,532 1528.6,532C1528.9,532 1530.1,421.5 1530.4,421.5C1530.7,421.5 1532.0,458 1532.3,458C1532.8,458 1534.3,430.4 1534.8,430.4C1535.5,430.4 1537.9,456.7 1538.6,456.7C1539.1,456.7 1541.1,427.9 1541.6,427.9C1542.9,427.9 1547.8,551.6 1549.1,551.6C1549.9,551.6 1552.9,436.6 1553.7,436.6C1554.2,436.6 1555.8,463 1556.2,463C1556.9,463 1559.2,429.9 1559.9,429.9C1560.9,429.9 1564.7,542 1565.7,542C1566.1,542 1567.4,490.2 1567.8,490.2C1568.2,490.2 1569.6,508.2 1570,508.2C1571.2,508.2 1575.6,383.9 1576.8,383.9C1577.2,383.9 1578.4,508.2 1578.8,508.2C1579.2,508.2 1580.8,431.6 1581.3,431.6C1582.0,431.6 1584.3,503.2 1585,503.2C1585.9,503.2 1589.2,441.7 1590.1,441.7C1590.8,441.7 1593.1,495.6 1593.8,495.6C1594.2,495.6 1595.8,463 1596.3,463C1597.0,463 1599.4,503.2 1600.1,503.2C1601.6,503.2 1606.9,378.2 1608.4,378.2C1609.2,378.2 1611.8,486.8 1612.6,486.8C1613.4,486.8 1616.1,435.4 1616.9,435.4C1617.5,435.4 1619.6,534 1620.2,534C1620.9,534 1623.2,401.5 1623.9,401.5C1624.4,401.5 1626.0,459.2 1626.4,459.2C1627.0,459.2 1628.9,434.1 1629.5,434.1C1630.1,434.1 1632.1,476.8 1632.7,476.8C1633.3,476.8 1635.4,415.3 1636,415.3C1637.0,415.3 1640.5,479.3 1641.5,479.3C1642.0,479.3 1644.0,421.6 1644.5,421.6C1644.9,421.6 1646.4,586.2 1646.8,586.2C1647.2,586.2 1648.6,387.7 1649,387.7C1649.5,387.7 1651.1,480.6 1651.6,480.6C1652.0,480.6 1653.6,427.9 1654.1,427.9C1655.0,427.9 1658.4,493.1 1659.3,493.1C1659.6,493.1 1660.7,446.7 1661,446.7C1661.6,446.7 1663.7,490.6 1664.3,490.6C1665.0,490.6 1667.3,406.5 1668,406.5C1668.4,406.5 1669.6,475.5 1670,475.5C1670.3,475.5 1671.5,425.3 1671.8,425.3C1672.3,425.3 1674.1,519.5 1674.6,519.5C1675.3,519.5 1677.9,417.8 1678.6,417.8C1679.2,417.8 1681.2,498.1 1681.8,498.1C1682.4,498.1 1684.5,355.1 1685.1,355.1C1686.0,355.1 1689.2,537.8 1690.1,537.8C1690.5,537.8 1692.1,380.2 1692.6,380.2C1693.2,380.2 1695.1,437.9 1695.7,437.9C1696.4,437.9 1698.7,391.5 1699.4,391.5C1699.7,391.5 1700.9,405.3 1701.2,405.3C1701.6,405.3 1702.8,399 1703.2,399C1703.6,399 1704.8,483.1 1705.2,483.1C1705.7,483.1 1707.7,386.4 1708.2,386.4C1708.7,386.4 1710.7,484.3 1711.2,484.3C1711.7,484.3 1713.2,404 1713.7,404C1714.5,404 1717.4,449.2 1718.2,449.2C1719.1,449.2 1722.4,386.4 1723.3,386.4C1723.7,386.4 1724.9,520.2 1725.3,520.2C1725.6,520.2 1726.7,464.8 1727,464.8C1727.3,464.8 1728.5,488.1 1728.8,488.1C1729.3,488.1 1731.0,432.9 1731.5,432.9C1732.5,432.9 1736.3,546 1737.3,546C1737.9,546 1740.2,426.6 1740.8,426.6C1741.5,426.6 1743.9,499.4 1744.6,499.4C1744.9,499.4 1745.8,466.4 1746.1,466.4C1746.4,466.4 1747.3,537.8 1747.6,537.8C1748.1,537.8 1749.9,426.6 1750.4,426.6C1750.8,426.6 1752.2,440.4 1752.6,440.4C1753.0,440.4 1754.2,436.6 1754.6,436.6C1755.0,436.6 1756.6,495.6 1757.1,495.6C1757.9,495.6 1760.6,405.3 1761.4,405.3C1761.8,405.3 1763.0,429.1 1763.4,429.1C1763.9,429.1 1765.5,347.5 1765.9,347.5C1766.6,347.5 1769.0,458 1769.7,458C1770.2,458 1771.8,447.9 1772.2,447.9C1772.4,447.9 1773.3,532 1773.5,532C1774.0,532 1776.0,440.4 1776.5,440.4C1776.9,440.4 1778.1,470.5 1778.5,470.5C1778.8,470.5 1779.9,442.9 1780.2,442.9C1780.4,442.9 1781.3,513.2 1781.5,513.2C1782.1,513.2 1784.4,480.4 1785,480.4C1785.6,480.4 1787.9,520.7 1788.5,520.7C1789.0,520.7 1790.5,449.2 1791,449.2C1791.7,449.2 1794.1,505.7 1794.8,505.7C1795.2,505.7 1796.4,429.1 1796.8,429.1C1797.2,429.1 1798.7,475.5 1799.1,475.5C1799.5,475.5 1800.7,447.9 1801.1,447.9C1802.0,447.9 1805.2,485.6 1806.1,485.6C1806.3,485.6 1807.1,447.2 1807.3,447.2C1807.5,447.2 1808.4,553.6 1808.6,553.6C1809.9,553.6 1814.8,370.1 1816.1,370.1C1816.7,370.1 1818.8,490.6 1819.4,490.6C1820.0,490.6 1822.3,404 1822.9,404C1824.2,404 1828.6,475.5 1829.9,475.5C1830.1,475.5 1831.0,458 1831.2,458C1831.7,458 1833.7,517 1834.2,517C1835.0,517 1837.9,427.9 1838.7,427.9C1838.9,427.9 1839.8,432.9 1840,432.9C1840.3,432.9 1841.4,333.6 1841.7,333.6C1842.2,333.6 1843.8,574.7 1844.2,574.7C1844.7,574.7 1846.3,447.9 1846.8,447.9C1847.4,447.9 1849.4,488.1 1850,488.1C1850.5,488.1 1852.0,458 1852.5,458C1853.0,458 1854.5,483.5 1855,483.5C1855.5,483.5 1857.0,367.1 1857.5,367.1C1858.0,367.1 1859.6,420.3 1860.1,420.3C1860.4,420.3 1861.5,370.1 1861.8,370.1C1862.8,370.1 1866.6,533.3 1867.6,533.3C1868.5,533.3 1871.7,476.8 1872.6,476.8C1872.9,476.8 1874.1,525.7 1874.4,525.7C1875.2,525.7 1878.1,465.5 1878.9,465.5C1879.1,465.5 1879.9,495.6 1880.1,495.6C1880.5,495.6 1882.1,381.4 1882.6,381.4C1883.8,381.4 1888.0,742.3 1889.2,742.3C1890.3,742.3 1894.1,348.8 1895.2,348.8C1895.5,348.8 1896.7,475.5 1897,475.5C1897.4,475.5 1898.6,463 1899,463C1900.1,463 1903.9,550.3 1905,550.3C1905.4,550.3 1906.6,450.4 1907,450.4C1907.4,450.4 1908.6,480.6 1909,480.6C1909.5,480.6 1911.5,435.4 1912,435.4C1912.8,435.4 1915.7,505.7 1916.5,505.7C1917.0,505.7 1918.5,429.1 1919,429.1C1919.4,429.1 1920.7,450.4 1921.1,450.4C1921.5,450.4 1922.9,434.1 1923.3,434.1C1924.2,434.1 1927.4,598.8 1928.3,598.8C1929.3,598.8 1932.6,459.2 1933.6,459.2C1933.9,459.2 1935.1,483.1 1935.4,483.1C1935.9,483.1 1937.5,461.7 1937.9,461.7C1938.8,461.7 1942.0,576.7 1942.9,576.7C1943.6,576.7 1946.0,454.2 1946.7,454.2C1947.1,454.2 1948.3,490.6 1948.7,490.6C1949.0,490.6 1950.1,458 1950.4,458C1951.3,458 1954.5,504.4 1955.4,504.4C1956.0,504.4 1957.9,373.9 1958.5,373.9C1958.9,373.9 1960.1,480.6 1960.5,480.6C1961.0,480.6 1962.5,399 1963,399C1963.3,399 1964.4,402.8 1964.7,402.8C1965.1,402.8 1966.3,380.2 1966.7,380.2C1967.4,380.2 1969.8,495.6 1970.5,495.6C1971.1,495.6 1973.0,459.9 1973.6,459.9C1974.2,459.9 1976.2,596.8 1976.8,596.8C1977.0,596.8 1977.8,476.8 1978,476.8C1978.5,476.8 1980.0,500.6 1980.5,500.6C1981.1,500.6 1983.2,451.7 1983.8,451.7C1984.2,451.7 1985.7,570.4 1986.1,570.4C1986.9,570.4 1989.8,485.6 1990.6,485.6C1990.7,485.6 1991.2,582.9 1991.3,582.9C1991.9,582.9 1993.9,310.9 1994.5,310.9C1995.4,310.9 1998.5,611.8 1999.4,611.8C2000.4,611.8 2003.9,432.9 2004.9,432.9C2005.5,432.9 2007.6,525.7 2008.2,525.7C2009.3,525.7 2013.3,464.2 2014.4,464.2C2014.7,464.2 2015.6,549.1 2015.9,549.1C2016.7,549.1 2019.4,439.6 2020.2,439.6C2020.5,439.6 2021.7,475.5 2022,475.5C2022.2,475.5 2023.0,454.2 2023.2,454.2C2024.5,454.2 2029.2,552.8 2030.5,552.8C2031.1,552.8 2033.2,454.2 2033.8,454.2C2034.4,454.2 2036.4,485.6 2037,485.6C2037.5,485.6 2039.0,469.3 2039.5,469.3C2040.0,469.3 2041.8,599.3 2042.3,599.3C2043.3,599.3 2046.8,348.8 2047.8,348.8C2048.2,348.8 2049.7,476.8 2050.1,476.8C2050.5,476.8 2052.2,421.6 2052.6,421.6C2052.9,421.6 2053.8,508.2 2054.1,508.2C2054.6,508.2 2056.6,391.5 2057.1,391.5C2057.8,391.5 2060.2,422.8 2060.9,422.8C2061.2,422.8 2062.1,391.1 2062.4,391.1C2062.7,391.1 2063.6,460.5 2063.9,460.5C2064.3,460.5 2065.5,419.1 2065.9,419.1C2066.2,419.1 2067.5,470.5 2067.8,470.5C2068.1,470.5 2069.3,447.9 2069.6,447.9C2070.1,447.9 2071.7,525.7 2072.2,525.7C2072.9,525.7 2075.2,432.1 2075.9,432.1C2076.6,432.1 2079.0,494.4 2079.7,494.4C2080.6,494.4 2083.8,377.7 2084.7,377.7C2085.4,377.7 2087.8,508.2 2088.5,508.2C2089.2,508.2 2091.5,455.5 2092.2,455.5C2092.9,455.5 2095.3,496.9 2096,496.9C2096.4,496.9 2098.1,447.9 2098.5,447.9C2099.6,447.9 2103.7,527 2104.8,527C2105.5,527 2107.9,419.1 2108.6,419.1C2109.2,419.1 2111.2,475.5 2111.8,475.5C2112.2,475.5 2113.9,385.2 2114.3,385.2C2114.9,385.2 2117.2,517 2117.8,517C2118.4,517 2120.5,404 2121.1,404C2121.9,404 2124.6,490.6 2125.4,490.6C2126.6,490.6 2130.7,416.6 2131.9,416.6C2132.0,416.6 2132.3,491.9 2132.4,491.9C2132.8,491.9 2134.5,443.3 2134.9,443.3C2135.3,443.3 2137.0,473 2137.4,473C2137.9,473 2139.9,458 2140.4,458C2140.8,458 2142.0,515.7 2142.4,515.7C2142.7,515.7 2144.0,466.1 2144.3,466.1C2144.6,466.1 2145.9,503.2 2146.2,503.2C2146.6,503.2 2148.2,440.4 2148.7,440.4C2149.1,440.4 2150.8,464.2 2151.2,464.2C2151.6,464.2 2153.2,440.4 2153.7,440.4C2154.1,440.4 2155.8,465.5 2156.2,465.5C2156.7,465.5 2158.3,405.8 2158.8,405.8C2159.0,405.8 2159.8,463 2160,463C2160.5,463 2162.5,437.9 2163,437.9C2163.8,437.9 2166.7,475.5 2167.5,475.5C2167.9,475.5 2169.6,424.1 2170,424.1C2170.5,424.1 2172.1,540.3 2172.6,540.3C2173.9,540.3 2178.8,429.1 2180.1,429.1C2180.8,429.1 2183.2,498.1 2183.9,498.1C2184.7,498.1 2187.6,372.6 2188.4,372.6C2189.1,372.6 2191.4,475.5 2192.1,475.5C2192.6,475.5 2194.6,453 2195.1,453C2195.5,453 2196.8,509.4 2197.2,509.4C2197.7,509.4 2199.4,464.5 2199.9,464.5C2200.4,464.5 2202.2,500.6 2202.7,500.6C2203.0,500.6 2204.3,447.9 2204.6,447.9C2204.9,447.9 2206.1,475.5 2206.4,475.5C2207.0,475.5 2209.1,405.8 2209.7,405.8C2210.0,405.8 2211.2,555.3 2211.5,555.3C2212.6,555.3 2216.6,415.3 2217.7,415.3C2218.1,415.3 2219.8,490.6 2220.2,490.6C2220.9,490.6 2223.3,446.7 2224,446.7C2225.1,446.7 2228.9,539 2230,539C2231.2,539 2235.4,357.6 2236.6,357.6C2237.0,357.6 2238.7,584.2 2239.1,584.2C2240.1,584.2 2243.6,434.1 2244.6,434.1C2245.0,434.1 2246.2,488.1 2246.6,488.1C2247.3,488.1 2249.7,458.4 2250.4,458.4C2251.1,458.4 2253.4,498.1 2254.1,498.1C2254.8,498.1 2257.2,446.7 2257.9,446.7C2258.6,446.7 2261.0,490.6 2261.7,490.6C2262.4,490.6 2264.7,370.1 2265.4,370.1C2265.9,370.1 2267.9,460.5 2268.4,460.5C2269.2,460.5 2272.2,394 2273,394C2273.2,394 2274.0,493.1 2274.2,493.1C2275.1,493.1 2278.3,449.2 2279.2,449.2C2279.6,449.2 2281.2,460.5 2281.7,460.5C2282.2,460.5 2283.8,432.9 2284.3,432.9C2284.7,432.9 2285.9,583.7 2286.3,583.7C2287.4,583.7 2291.4,261 2292.5,261C2293.1,261 2295.0,460.5 2295.6,460.5C2296.0,460.5 2297.7,447.9 2298.1,447.9C2298.5,447.9 2300.2,500.6 2300.6,500.6C2300.9,500.6 2302.2,484.8 2302.5,484.8C2302.9,484.8 2304.1,510.7 2304.5,510.7C2305.0,510.7 2307.0,420.8 2307.5,420.8C2308.2,420.8 2310.8,476.8 2311.5,476.8C2312.1,476.8 2314.0,434.1 2314.6,434.1C2315.0,434.1 2316.7,478.1 2317.1,478.1C2317.6,478.1 2319.6,434.1 2320.1,434.1C2321.4,434.1 2325.8,532 2327.1,532C2328.2,532 2332.3,447.9 2333.4,447.9C2334.0,447.9 2336.0,484.3 2336.6,484.3C2337.5,484.3 2340.8,412.8 2341.7,412.8C2342.2,412.8 2344.2,504.4 2344.7,504.4C2345.1,504.4 2346.8,455.5 2347.2,455.5C2347.9,455.5 2350.2,480.6 2350.9,480.6C2351.6,480.6 2354.0,488.1 2354.7,488.1C2355.0,488.1 2356.2,626.4 2356.5,626.4C2356.8,626.4 2358.1,479.6 2358.4,479.6C2358.7,479.6 2359.9,500.6 2360.2,500.6C2360.8,500.6 2362.9,409 2363.5,409C2363.7,409 2364.6,422.8 2364.8,422.8C2365.2,422.8 2366.4,421.6 2366.8,421.6C2367.4,421.6 2369.7,587.2 2370.3,587.2C2370.6,587.2 2371.9,541.7 2372.2,541.7C2372.5,541.7 2373.7,576.7 2374,576.7C2374.2,576.7 2375.1,432.4 2375.3,432.4C2375.7,432.4 2376.9,480.6 2377.3,480.6C2377.7,480.6 2378.9,420.3 2379.3,420.3C2379.6,420.3 2380.8,422.8 2381.1,422.8C2381.4,422.8 2382.5,408.3 2382.8,408.3C2383.8,408.3 2387.1,552.8 2388.1,552.8C2388.5,552.8 2390.0,425.3 2390.4,425.3C2390.8,425.3 2392.0,427.9 2392.4,427.9C2392.7,427.9 2393.8,377.1 2394.1,377.1C2394.9,377.1 2397.8,529.5 2398.6,529.5C2399.0,529.5 2400.4,504.2 2400.8,504.2C2401.2,504.2 2402.5,546.6 2402.9,546.6C2403.5,546.6 2405.6,418.3 2406.2,418.3C2407.0,418.3 2409.6,537.8 2410.4,537.8C2411.3,537.8 2414.6,453 2415.5,453C2416.3,453 2419.2,556.1 2420,556.1C2421.1,556.1 2425.1,456.7 2426.2,456.7C2426.6,456.7 2427.9,577.9 2428.3,577.9C2428.6,577.9 2429.8,558.6 2430.1,558.6C2430.4,558.6 2431.7,595.5 2432,595.5C2432.4,595.5 2433.9,460.5 2434.3,460.5C2435.5,460.5 2439.6,552.1 2440.8,552.1C2441.1,552.1 2442.0,441.8 2442.3,441.8C2442.6,441.8 2443.5,470.5 2443.8,470.5C2444.2,470.5 2445.9,438.6 2446.3,438.6C2446.6,438.6 2447.8,450.4 2448.1,450.4C2448.4,450.4 2449.3,449.2 2449.6,449.2C2450.1,449.2 2452.1,527 2452.6,527C2453.2,527 2455.1,297.3 2455.7,297.3C2456.3,297.3 2458.5,583.7 2459.1,583.7C2459.4,583.7 2460.5,261 2460.8,261C2461.6,261 2464.4,551.1 2465.2,551.1C2465.7,551.1 2467.5,295.7 2468,295.7C2468.3,295.7 2469.4,442.9 2469.7,442.9C2469.9,442.9 2470.5,440.4 2470.7,440.4C2471.5,440.4 2474.4,585.5 2475.2,585.5C2475.6,585.5 2477.2,387.7 2477.7,387.7C2478.1,387.7 2479.8,478.1 2480.2,478.1C2480.6,478.1 2481.8,473 2482.2,473C2482.9,473 2485.3,767.4 2486,767.4C2486.5,767.4 2488.5,407.8 2489,407.8C2489.5,407.8 2491.4,440.3 2491.9,440.3C2492.4,440.3 2494.3,356.3 2494.8,356.3C2495.1,356.3 2496.2,437.9 2496.5,437.9C2496.8,437.9 2498.0,421.6 2498.3,421.6C2498.8,421.6 2500.5,566.1 2501,566.1C2501.3,566.1 2502.5,483.1 2502.8,483.1C2503.7,483.1 2506.9,559.1 2507.8,559.1C2508.3,559.1 2510.3,449.2 2510.8,449.2C2511.4,449.2 2513.5,460.5 2514.1,460.5C2514.5,460.5 2516.2,400.7 2516.6,400.7C2517.0,400.7 2518.7,530.8 2519.1,530.8C2519.7,530.8 2521.8,359.6 2522.4,359.6C2522.8,359.6 2524.2,568.6 2524.6,568.6C2524.9,568.6 2526.0,521 2526.3,521C2526.6,521 2527.6,552.8 2527.9,552.8C2528.3,552.8 2530.0,447.9 2530.4,447.9C2530.6,447.9 2531.5,480.6 2531.7,480.6C2532.0,480.6 2533.1,394 2533.4,394C2533.8,394 2535.0,454.2 2535.4,454.2C2536.0,454.2 2538.1,392.2 2538.7,392.2C2539.2,392.2 2541.2,473 2541.7,473C2542.2,473 2544.2,138.5 2544.7,138.5C2545.5,138.5 2548.4,537 2549.2,537C2550.2,537 2554.0,406.5 2555,406.5C2556.3,406.5 2560.7,557.8 2562,557.8C2562.6,557.8 2564.5,414.8 2565.1,414.8C2565.5,414.8 2566.9,463 2567.3,463C2567.8,463 2569.6,349.5 2570.1,349.5C2571.2,349.5 2575.0,504.4 2576.1,504.4C2576.7,504.4 2578.8,416.6 2579.4,416.6C2580.3,416.6 2583.5,498.1 2584.4,498.1C2585.2,498.1 2587.8,430.9 2588.6,430.9C2589.2,430.9 2591.3,471.8 2591.9,471.8C2592.3,471.8 2594.0,437.9 2594.4,437.9C2595.3,437.9 2598.5,504.4 2599.4,504.4C2599.8,504.4 2601.0,449.9 2601.4,449.9C2602.1,449.9 2604.5,495.6 2605.2,495.6C2605.6,495.6 2607.2,481.8 2607.7,481.8C2608.3,481.8 2610.6,530.8 2611.2,530.8C2612.4,530.8 2616.6,394.7 2617.8,394.7C2618.3,394.7 2620.3,504.4 2620.8,504.4C2621.2,504.4 2622.9,443.4 2623.3,443.4C2623.8,443.4 2625.4,475.5 2625.8,475.5C2626.2,475.5 2627.8,451.2 2628.2,451.2C2628.6,451.2 2630.2,589.7 2630.6,589.7C2631.2,589.7 2633.2,412.8 2633.8,412.8C2634.4,412.8 2636.5,517 2637.1,517C2637.5,517 2638.8,479.7 2639.2,479.7C2639.6,479.7 2641.0,505.7 2641.4,505.7C2641.8,505.7 2643.5,403.3 2643.9,403.3C2644.7,403.3 2647.6,479.3 2648.4,479.3C2648.7,479.3 2649.6,451.6 2649.9,451.6C2650.2,451.6 2651.1,498.1 2651.4,498.1C2651.5,498.1 2652.1,447.9 2652.2,447.9C2652.5,447.9 2653.7,482.4 2654,482.4C2654.3,482.4 2655.6,427.3 2655.9,427.3C2656.4,427.3 2658.2,576.2 2658.7,576.2C2659.3,576.2 2661.6,450.9 2662.2,450.9C2662.5,450.9 2663.6,481.8 2663.9,481.8C2664.4,481.8 2666.0,449.9 2666.5,449.9C2667.1,449.9 2669.4,547.1 2670,547.1C2670.5,547.1 2672.5,457.6 2673,457.6C2673.5,457.6 2675.5,485.6 2676,485.6C2676.4,485.6 2678.1,390.7 2678.5,390.7C2678.9,390.7 2680.6,491.9 2681,491.9C2681.6,491.9 2683.9,428.4 2684.5,428.4C2685.0,428.4 2686.8,465.5 2687.3,465.5C2687.5,465.5 2688.3,440.7 2688.5,440.7C2688.7,440.7 2689.6,503.2 2689.8,503.2C2689.9,503.2 2690.5,463 2690.6,463C2691.0,463 2692.4,490.2 2692.8,490.2C2693.2,490.2 2694.7,406.5 2695.1,406.5C2695.5,406.5 2696.9,563.6 2697.3,563.6C2697.8,563.6 2699.6,425.3 2700.1,425.3"/>
</g>
<g stroke="#000" stroke-width="3.33" fill="none">
<rect x="375.5" y="108.5" width="2325.0" height="693.0"/>
<line x1="503.5" y1="801.5" x2="503.5" y2="816.1"/><line x1="1014.5" y1="801.5" x2="1014.5" y2="816.1"/><line x1="1525.5" y1="801.5" x2="1525.5" y2="816.1"/><line x1="2036.5" y1="801.5" x2="2036.5" y2="816.1"/><line x1="2547.5" y1="801.5" x2="2547.5" y2="816.1"/><line x1="375.5" y1="187.5" x2="360.9" y2="187.5"/><line x1="375.5" y1="326.5" x2="360.9" y2="326.5"/><line x1="375.5" y1="466.5" x2="360.9" y2="466.5"/><line x1="375.5" y1="606.5" x2="360.9" y2="606.5"/><line x1="375.5" y1="745.5" x2="360.9" y2="745.5"/>
</g>
<text x="1537.5" y="82.7" text-anchor="middle" font-size="50">Spectrum of object 07422 in candels-cdfs-14</text>
<text x="503.2" y="852" text-anchor="middle" font-size="29.17">5000</text><text x="1014.2" y="852" text-anchor="middle" font-size="29.17">6000</text><text x="1525.2" y="852" text-anchor="middle" font-size="29.17">7000</text><text x="2036.2" y="852" text-anchor="middle" font-size="29.17">8000</text><text x="2547.2" y="852" text-anchor="middle" font-size="29.17">9000</text>
<text x="345.5" y="200.0" text-anchor="end" font-size="37.5">1.0</text><text x="345.5" y="339.7" text-anchor="end" font-size="37.5">0.5</text><text x="345.5" y="479.4" text-anchor="end" font-size="37.5">0.0</text><text x="345.5" y="619.1" text-anchor="end" font-size="37.5">−0.5</text><text x="345.5" y="758.8" text-anchor="end" font-size="37.5">−1.0</text>
<text x="1537.5" y="887.6" text-anchor="middle" font-size="33.33">Wavelength</text>
<g transform="translate(225,710) rotate(-90)"><text font-size="45.83"><tspan x="-4.2" y="0">10</tspan><tspan x="54.4" y="-17.6" font-size="32.08">−18</tspan><tspan x="138.7" y="0">erg s</tspan><tspan x="254.1" y="-17.6" font-size="32.08">−1</tspan><tspan x="310.6" y="0">cm</tspan><tspan x="379.9" y="-17.6" font-size="32.08">−2</tspan><tspan x="435.9" y="0">Å</tspan><tspan x="467.9" y="-17.6" font-size="32.08">−1</tspan></text></g>
</svg>
</body></html>
